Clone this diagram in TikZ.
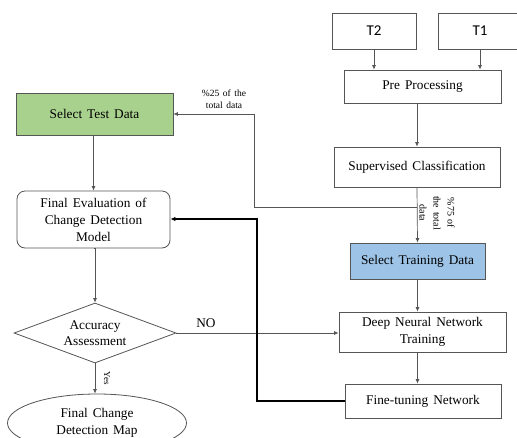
\documentclass[tikz,border=0pt]{standalone}
\usepackage{fontspec}
\setmainfont{Liberation Serif}[WordSpace={1.5}]
\newfontfamily\calib{Carlito}
\usetikzlibrary{shapes.geometric,arrows.meta}
\definecolor{lin}{RGB}{85,85,85}
\definecolor{tgreen}{RGB}{169,209,142}
\definecolor{tblue}{RGB}{157,195,230}
\begin{document}
\begin{tikzpicture}[x=1pt,y=-1pt,
  box/.style={draw=lin, line width=0.8pt, align=center, font=\fontsize{13.3}{17}\selectfont, inner sep=0pt},
  arr/.style={draw=lin, line width=0.7pt, -{Latex[length=4.5pt,width=4pt]}},
  thickarr/.style={draw=black, line width=1.5pt, -{Latex[length=5pt,width=4.5pt]}},
  small/.style={font=\fontsize{9.5}{12}\selectfont, align=center, inner sep=0pt}]
\useasboundingbox (0,0) rectangle (517,437);
\clip (0,0) rectangle (517,437);
\fill[white] (0,0) rectangle (517,437);

\node[box, minimum width=84pt, minimum height=36pt, font=\calib\fontsize{15}{18}\selectfont] (t2) at (374,31) {T2};
\node[box, minimum width=84pt, minimum height=36pt, font=\calib\fontsize{15}{18}\selectfont] (t1) at (480,31) {T1};
\node[box, minimum width=157pt, minimum height=33pt] (pre) at (422.5,86.5) {Pre Processing};
\node[box, minimum width=166pt, minimum height=40pt] (sc) at (417,167) {Supervised Classification};
\node[box, fill=tblue, minimum width=135pt, minimum height=36pt] (trn) at (417.5,261) {Select Training Data};
\node[box, fill=tgreen, minimum width=157pt, minimum height=42pt] (tst) at (94.5,114) {Select Test Data};
\node[box, rounded corners=8pt, minimum width=153pt, minimum height=57pt] (ev) at (93.5,219.5) {Final Evaluation of\\Change Detection\\Model};
\node[box, diamond, aspect=2.7, minimum width=162pt, minimum height=60pt, font=\fontsize{13.3}{16}\selectfont] (acc) at (95,333) {Accuracy\\Assessment};
\node[box, ellipse, minimum width=179pt, minimum height=58pt] (fin) at (97,423) {Final Change\\Detection Map};
\node[box, minimum width=167pt, minimum height=40pt] (dnn) at (422.5,332) {Deep Neural Network\\Training};
\node[box, minimum width=156pt, minimum height=34pt] (ft) at (423,401) {Fine-tuning Network};

\coordinate (split) at (417,207);
\coordinate (la) at (254,207);
\coordinate (lb) at (254,114);
\coordinate (fa) at (257,401);
\coordinate (fb) at (257,219);

\draw[arr] (t2.south) -- (t2.south |- pre.north);
\draw[arr] (t1.south) -- (t1.south |- pre.north);
\draw[arr] (sc.north |- pre.south) -- (sc.north);
\draw[arr] (sc.south) -- (trn.north);
\draw[arr] (split) -- (la) -- (lb) -- (tst.east);
\draw[arr] (tst.south -| ev.north) -- (ev.north);
\draw[arr] (ev.south) -- (ev.south -| acc.north) -- (acc.north);
\draw[arr] (acc.south) -- (acc.south |- fin.north);
\draw[arr] (acc.east) -- (acc.east -| dnn.west);
\draw[arr] (trn.south) -- (trn.south |- dnn.north);
\draw[arr] (trn.south |- dnn.south) -- (trn.south |- ft.north);
\draw[thickarr] (ft.west) -- (fa) -- (fb) -- (fb -| ev.east);

\node[small] (l25) at (224,99) {\%25 of the\\total data};
\node[small, font=\fontsize{10}{14}\selectfont, rotate=-90] (l75) at (437,213) {\%75 of\\the total\\data};
\node[small, rotate=-90, font=\fontsize{9}{11}\selectfont] (lyes) at (107,378) {Yes};
\node[font=\fontsize{13.3}{16}\selectfont, inner sep=0pt] (lno) at (206,323) {NO};
\end{tikzpicture}
\end{document}
